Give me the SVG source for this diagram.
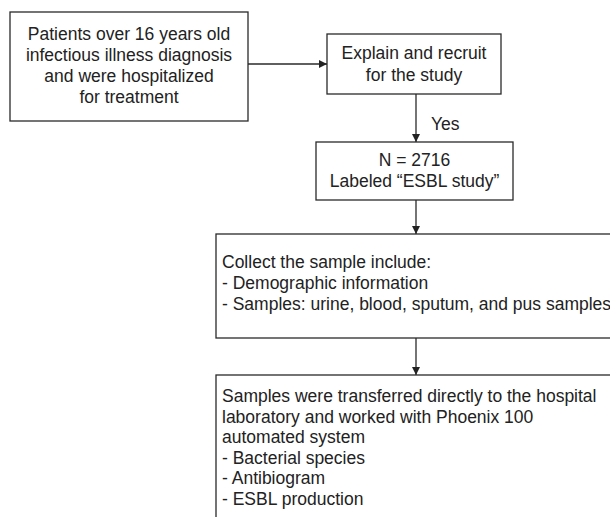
<svg xmlns="http://www.w3.org/2000/svg" width="610" height="517" viewBox="0 0 610 517">
<style>
.box{fill:#fff;stroke:#2a2a2a;stroke-width:1.3}
.t{font-family:"Liberation Sans",Arial,sans-serif;font-size:17.5px;fill:#222}
.c{text-anchor:middle}
.ln{stroke:#2a2a2a;stroke-width:1.3;fill:none}
</style>
<defs>
<marker id="ah" markerWidth="8" markerHeight="8" refX="8" refY="4" orient="auto" markerUnits="userSpaceOnUse">
<path d="M0,0 L8,4 L0,8 Z" fill="#222"/>
</marker>
</defs>
<rect width="610" height="517" fill="#fff"/>
<g id="connectors">
<line class="ln" x1="248" y1="64" x2="327" y2="64" marker-end="url(#ah)"/>
<line class="ln" x1="416" y1="94" x2="416" y2="142" marker-end="url(#ah)"/>
<line class="ln" x1="416" y1="200" x2="416" y2="234" marker-end="url(#ah)"/>
<line class="ln" x1="416" y1="338" x2="416" y2="375" marker-end="url(#ah)"/>
<text class="t" x="431" y="130">Yes</text>
</g>
<g id="patients">
<rect class="box" x="10" y="12" width="238" height="109"/>
<text class="t c" x="129" y="40">Patients over 16 years old</text>
<text class="t c" x="129" y="61">infectious illness diagnosis</text>
<text class="t c" x="129" y="82">and were hospitalized</text>
<text class="t c" x="129" y="103">for treatment</text>
</g>
<g id="recruit">
<rect class="box" x="327" y="34" width="174" height="60"/>
<text class="t c" x="414" y="59">Explain and recruit</text>
<text class="t c" x="414" y="81">for the study</text>
</g>
<g id="esbl">
<rect class="box" x="316" y="142" width="197" height="58"/>
<text class="t c" x="414.5" y="166">N = 2716</text>
<text class="t c" x="414.5" y="187">Labeled “ESBL study”</text>
</g>
<g id="collect">
<rect class="box" x="216" y="234" width="400" height="104"/>
<text class="t" x="222" y="268">Collect the sample include:</text>
<text class="t" x="222" y="289">- Demographic information</text>
<text class="t" x="222" y="310">- Samples: urine, blood, sputum, and pus samples</text>
</g>
<g id="lab">
<rect class="box" x="216" y="375" width="400" height="150"/>
<text class="t" x="222" y="402">Samples were transferred directly to the hospital</text>
<text class="t" x="222" y="422.5">laboratory and worked with Phoenix 100</text>
<text class="t" x="222" y="443">automated system</text>
<text class="t" x="222" y="463.5">- Bacterial species</text>
<text class="t" x="222" y="484">- Antibiogram</text>
<text class="t" x="222" y="504.5">- ESBL production</text>
</g>
</svg>
